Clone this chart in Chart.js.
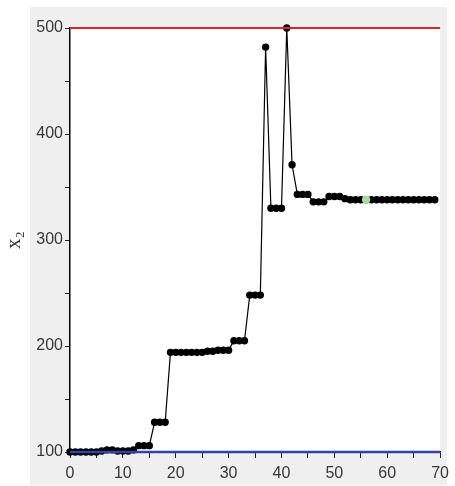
<!DOCTYPE html>
<html>
<head>
<meta charset="utf-8">
<script src="https://cdn.jsdelivr.net/npm/chart.js@4/dist/chart.umd.min.js"></script>
<style>
  html, body { margin: 0; padding: 0; background: #ffffff; }
  #c { display: block; }
</style>
</head>
<body>
<canvas id="c" width="455" height="486"></canvas>
<script>
// Iteration numbers (x axis)
const iterations = [
  0,1,2,3,4,5,6,7,8,9,
  10,11,12,13,14,15,16,17,18,19,
  20,21,22,23,24,25,26,27,28,29,
  30,31,32,33,34,35,36,37,38,39,
  40,41,42,43,44,45,46,47,48,49,
  50,51,52,53,54,55,56,57,58,59,
  60,61,62,63,64,65,66,67,68,69
];
// x2 value at each iteration
const x2Values = [
  100,100,100,100,100,100,101,102,102,101,
  101,101,102,106,106,106,128,128,128,194,
  194,194,194,194,194,194,195,195,196,196,
  196,205,205,205,248,248,248,482,330,330,
  330,500,371,343,343,343,336,336,336,341,
  341,341,339,338,338,338,338,338,338,338,
  338,338,338,338,338,338,338,338,338,338
];
const upperBound = 500;
const lowerBound = 100;
const boundRange = [0, 70];
const bestIteration = 56;
const yTicks = { min: 100, max: 500, step: 50, labelEvery: 100 };
const xTicks = { min: 0, max: 70, step: 5, labelEvery: 10 };

const seriesPts = iterations.map((it, i) => ({ x: it, y: x2Values[i] }));
const bestPt = [{ x: bestIteration, y: x2Values[iterations.indexOf(bestIteration)] }];

const bgPlugin = {
  id: 'bg',
  beforeDraw(chart) {
    const ctx = chart.ctx, a = chart.chartArea;
    ctx.save();
    ctx.fillStyle = '#ffffff';
    ctx.fillRect(0, 0, chart.width, chart.height);
    ctx.fillStyle = '#efefef';
    ctx.fillRect(30, 7, 417, 478);
    ctx.fillStyle = '#ffffff';
    ctx.fillRect(a.left, a.top, a.right - a.left, a.bottom - a.top);
    ctx.restore();
  }
};

new Chart(document.getElementById('c'), {
  type: 'line',
  data: {
    datasets: [
      {
        label: 'upper',
        data: boundRange.map(x => ({ x, y: upperBound })),
        borderColor: '#e0222a',
        borderWidth: 2,
        pointRadius: 0,
        clip: false
      },
      {
        label: 'lower',
        data: boundRange.map(x => ({ x, y: lowerBound })),
        borderColor: '#3142ad',
        borderWidth: 2.4,
        pointRadius: 0,
        clip: false
      },
      {
        label: 'best',
        data: bestPt,
        showLine: false,
        pointRadius: 4.2,
        pointBackgroundColor: '#a6dd9c',
        pointBorderColor: '#a6dd9c',
        pointBorderWidth: 0,
        clip: false
      },
      {
        label: 'x2',
        data: seriesPts,
        borderColor: '#000000',
        borderWidth: 1.2,
        pointRadius: 3.7,
        pointBackgroundColor: '#000000',
        pointBorderColor: '#000000',
        pointBorderWidth: 0,
        clip: false
      }
    ]
  },
  options: {
    responsive: false,
    animation: false,
    layout: { padding: { top: 28, right: 13, left: 0, bottom: 0 } },
    plugins: { legend: { display: false }, tooltip: { enabled: false } },
    scales: {
      x: {
        type: 'linear',
        min: xTicks.min,
        max: xTicks.max,
        ticks: {
          stepSize: xTicks.step,
          autoSkip: false,
          maxRotation: 0,
          padding: 6,
          color: '#383838',
          font: { family: 'Liberation Sans, Arial, sans-serif', size: 16 },
          callback: v => (v % xTicks.labelEvery === 0 ? String(v) : '')
        },
        grid: { drawOnChartArea: false, tickLength: 6, color: '#222', lineWidth: 1 },
        border: { display: true, color: '#000', width: 1.5 },
        afterFit: s => { s.height = 34; }
      },
      y: {
        type: 'linear',
        min: yTicks.min,
        max: yTicks.max,
        ticks: {
          stepSize: yTicks.step,
          autoSkip: false,
          padding: 2,
          color: '#383838',
          font: { family: 'Liberation Sans, Arial, sans-serif', size: 16 },
          callback: v => (v % yTicks.labelEvery === 0 ? String(v) : '')
        },
        grid: { drawOnChartArea: false, tickLength: 5, color: '#222', lineWidth: 1 },
        border: { display: true, color: '#000', width: 1.5 },
        title: {
          display: true,
          text: 'x\u2082',
          color: '#333',
          font: { family: 'Liberation Serif, Times New Roman, serif', size: 21 },
          padding: { top: 2, bottom: 0 }
        },
        afterFit: s => { s.width = 70; }
      }
    }
  },
  plugins: [bgPlugin]
});
</script>
</body>
</html>
